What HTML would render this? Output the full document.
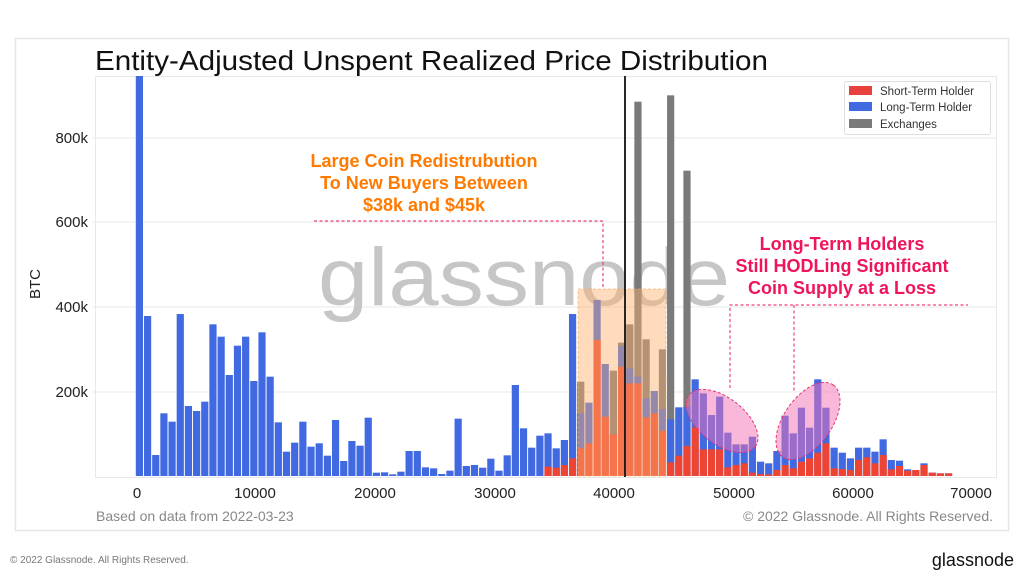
<!DOCTYPE html>
<html><head><meta charset="utf-8"><style>
html,body{margin:0;padding:0;background:#fff;}
svg{display:block;font-family:"Liberation Sans",sans-serif;}
</style></head><body>
<svg id="s" width="1024" height="587" viewBox="0 0 1024 587" xmlns="http://www.w3.org/2000/svg">
<rect x="0" y="0" width="1024" height="587" fill="#fff"/>
<rect x="15.5" y="38.5" width="993" height="492" fill="#fff" stroke="#e6e6e6" stroke-width="1.5"/>
<text x="95" y="70" font-size="28" fill="#111" textLength="673" lengthAdjust="spacingAndGlyphs">Entity-Adjusted Unspent Realized Price Distribution</text>
<rect x="95.5" y="76.5" width="901" height="401" fill="none" stroke="#e8e8e8"/>
<g stroke="#e8e8e8" stroke-width="1">
<line x1="92" x2="997" y1="392" y2="392"/><line x1="92" x2="997" y1="307" y2="307"/>
<line x1="92" x2="997" y1="222" y2="222"/><line x1="92" x2="997" y1="138" y2="138"/>
</g>
<g font-size="15" fill="#222" text-anchor="end">
<text x="88" y="397">200k</text><text x="88" y="312">400k</text><text x="88" y="227">600k</text><text x="88" y="143">800k</text>
</g>
<text transform="translate(40,284) rotate(-90)" font-size="15" fill="#222" text-anchor="middle">BTC</text>
<text x="318" y="305" font-size="82" fill="#c6c6c6" textLength="412" lengthAdjust="spacingAndGlyphs">glassnode</text>
<g id="bars"></g>
<rect x="578" y="289" width="88" height="187" fill="#fdb06a" opacity="0.45"/>
<rect x="578" y="289" width="88" height="187" fill="none" stroke="#f7a860" stroke-dasharray="3,2" opacity="0.6"/>
<line x1="625" y1="76" x2="625" y2="477" stroke="#111" stroke-width="1.8"/>
<ellipse cx="722" cy="421" rx="42" ry="23" transform="rotate(38 722 421)" fill="#f472b6" fill-opacity="0.5" stroke="#e8336e" stroke-dasharray="3,2"/>
<ellipse cx="808" cy="421" rx="44" ry="24" transform="rotate(-55 808 421)" fill="#f472b6" fill-opacity="0.5" stroke="#e8336e" stroke-dasharray="3,2"/>
<g stroke="#f0407a" stroke-width="1.2" stroke-dasharray="3,2.5" fill="none">
<polyline points="314,221 603,221 603,289"/>
<polyline points="730,388 730,305 968,305"/>
<line x1="794" y1="305" x2="794" y2="392"/>
</g>
<g font-size="18" font-weight="bold" fill="#ff7a00" text-anchor="middle">
<text x="424" y="167">Large Coin Redistrubution</text>
<text x="424" y="189">To New Buyers Between</text>
<text x="424" y="211">$38k and $45k</text>
</g>
<g font-size="18" font-weight="bold" fill="#f0145a" text-anchor="middle">
<text x="842" y="250">Long-Term Holders</text>
<text x="842" y="272">Still HODLing Significant</text>
<text x="842" y="294">Coin Supply at a Loss</text>
</g>
<rect x="844.5" y="81.5" width="146" height="53" fill="#fff" stroke="#ddd" rx="2"/>
<rect x="849" y="86" width="23" height="9" fill="#e8413c"/>
<rect x="849" y="102" width="23" height="9" fill="#4169e1"/>
<rect x="849" y="119" width="23" height="9" fill="#7a7a7a"/>
<g font-size="11.5" fill="#333">
<text x="880" y="95">Short-Term Holder</text><text x="880" y="111">Long-Term Holder</text><text x="880" y="128">Exchanges</text>
</g>
<g font-size="15" fill="#222" text-anchor="middle">
<text x="137" y="498">0</text><text x="255" y="498">10000</text><text x="375" y="498">20000</text>
<text x="495" y="498">30000</text><text x="614" y="498">40000</text><text x="734" y="498">50000</text>
<text x="853" y="498">60000</text><text x="971" y="498">70000</text>
</g>
<text x="96" y="521" font-size="14" fill="#888">Based on data from 2022-03-23</text>
<text x="993" y="521" font-size="14" fill="#888" text-anchor="end">© 2022 Glassnode. All Rights Reserved.</text>
<text x="10" y="563" font-size="10" fill="#777">© 2022 Glassnode. All Rights Reserved.</text>
<text x="1014" y="566" font-size="18" fill="#111" text-anchor="end">glassnode</text>
</svg>
<script>
var B=[18,738,1155,1030,1055,732,1008,1023,995,763,800,915,827,800,933,787,920,1057,1145,1118,1055,1130,1120,1157,1050,1173,1113,1127,1043,1208,1207,1213,1205,1143,1143,1192,1195,1212,1202,1046,1188,1185,1193,1166,1202,1156,945,1075,1133,1097];
var C=[[1090,1190],[1135,1193],[1110,1185],[732,1165],[1030,1135,935],[998,1120],[690,810],[882,1040],[1093,1093,902],[828,890,818],[895,940,763],[920,940,95],[985,1042,808],[963,1030],[1017,1082,838],[1048,1177,76],[1012,1157],[1010,1128,302],[928,1072],[970,1138],[1035,1138],[980,1138],[1088,1192],[1123,1185],[1123,1180],[1100,1208],[1175,1212],[1180,1213],[1143,1200],[1037,1185],[1090,1195],[1013,1175],[1073,1165],[928,1148],[1013,1120],[1133,1195],[1148,1197],[1165,1200],[1133,1170],[1133,1162],[1145,1180],[1108,1155],[1170,1198],[1172,1188],[1198,1202],[1200,1200],[1180,1185],[1208,1208],[1210,1210],[1210,1210]];
var g=document.getElementById('bars'),ns='http://www.w3.org/2000/svg',base=476;
function r(x,z,col){var y=70+z/3;if(y<76)y=76;if(y>=base)return;var e=document.createElementNS(ns,'rect');e.setAttribute('x',x.toFixed(2));e.setAttribute('y',y.toFixed(2));e.setAttribute('width','7.2');e.setAttribute('height',(base-y).toFixed(2));e.setAttribute('fill',col);g.appendChild(e);}
for(var i=0;i<B.length;i++){r(135.8+i*8.173,B[i],'#4169e1');}
for(var j=0;j<C.length;j++){var x=135.8+(j+50)*8.173,c=C[j];if(c[2]!==undefined)r(x,c[2],'#7a7a7a');r(x,c[0],'#4169e1');r(x,c[1],'#ee4434');}
</script>
</body></html>
